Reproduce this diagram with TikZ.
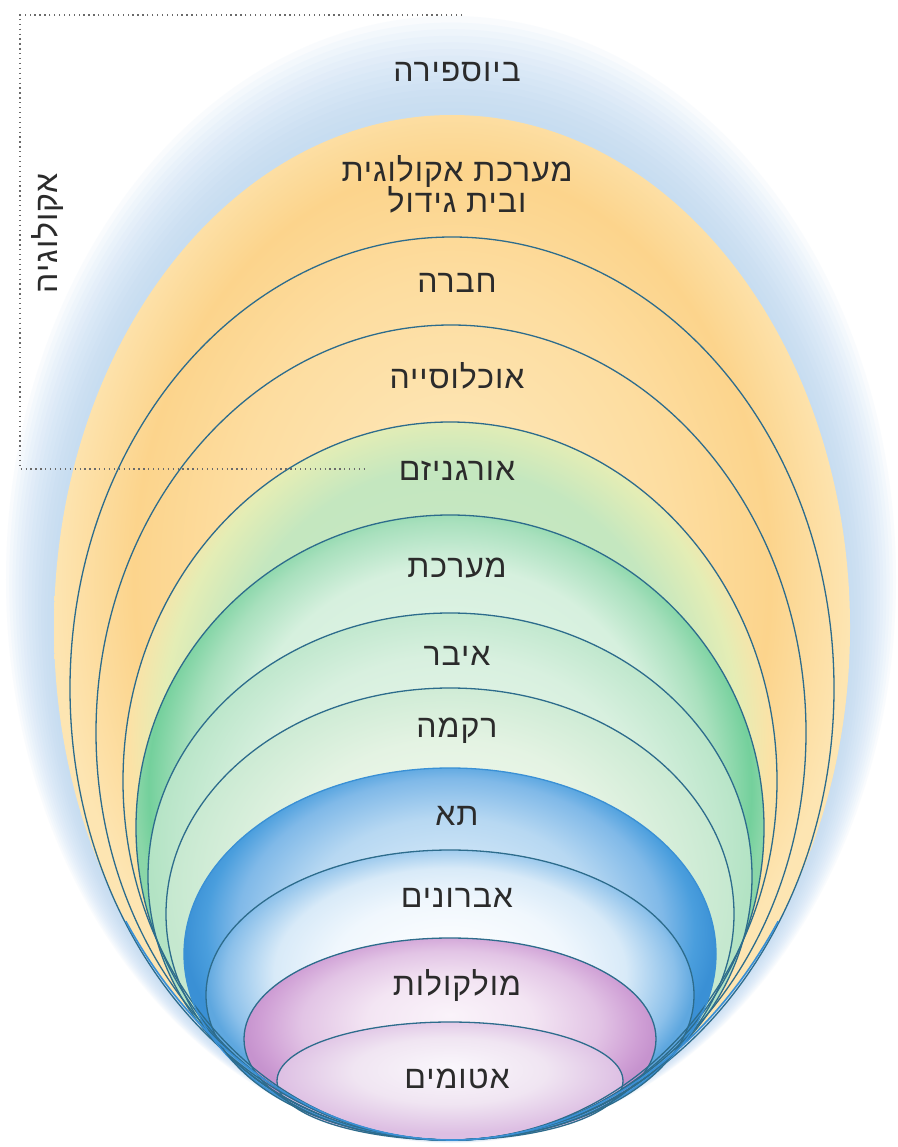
\documentclass[tikz,border=0pt]{standalone}
\usepackage{fontspec}
\newfontfamily\heb[Script=Hebrew,LetterSpace=3]{Liberation Sans}
\TeXXeTstate=1
\definecolor{glowc}{HTML}{B4D3F1}
\definecolor{lnc}{HTML}{2D6C8C}
\definecolor{txt}{HTML}{2B2B2B}
\definecolor{brkc}{HTML}{6A6A6A}
\definecolor{ylA}{HTML}{FEEAC0}
\definecolor{ylB}{HTML}{FDDDA0}
\definecolor{ylC}{HTML}{FCD48C}
\definecolor{ylD}{HTML}{FDE5B2}
\definecolor{orA}{HTML}{C9E9C8}
\definecolor{orB}{HTML}{C4E7BF}
\definecolor{orC}{HTML}{E4EDB5}
\definecolor{orD}{HTML}{FBE2A6}
\definecolor{syA}{HTML}{EAF7EE}
\definecolor{syB}{HTML}{D6F0DE}
\definecolor{syC}{HTML}{A8E0BD}
\definecolor{syD}{HTML}{74D09C}
\definecolor{syE}{HTML}{8AD6A8}
\definecolor{ogA}{HTML}{EEF8F0}
\definecolor{ogB}{HTML}{D8F0DF}
\definecolor{ogC}{HTML}{B3E3C4}
\definecolor{tiA}{HTML}{F4FAF0}
\definecolor{tiB}{HTML}{E4F3E3}
\definecolor{tiC}{HTML}{C5E8CF}
\definecolor{ceA}{HTML}{E6F2FB}
\definecolor{ceB}{HTML}{B7D8F2}
\definecolor{ceC}{HTML}{80B9E8}
\definecolor{ceD}{HTML}{4A9EDD}
\definecolor{ceE}{HTML}{3A90D5}
\definecolor{onA}{HTML}{FFFFFF}
\definecolor{onB}{HTML}{F0F7FD}
\definecolor{onC}{HTML}{D8EAF8}
\definecolor{onD}{HTML}{8BC0EA}
\definecolor{onE}{HTML}{5EA7DF}
\definecolor{moA}{HTML}{FAF3FA}
\definecolor{moB}{HTML}{F3E5F3}
\definecolor{moC}{HTML}{E2C4E5}
\definecolor{moD}{HTML}{CF9FD5}
\definecolor{moE}{HTML}{C693CE}
\definecolor{atA}{HTML}{FAF7FC}
\definecolor{atB}{HTML}{F0E5F2}
\definecolor{atC}{HTML}{DDBFE3}
% the edge of each shaded ellipse sits at about 25bp of the shading;
% the inner centre is raised so that the sides take the stronger colours
\pgfdeclareradialshading{yellowsh}{\pgfpoint{0bp}{4bp}}{color(0bp)=(ylA); color(14bp)=(ylB); color(20bp)=(ylC); color(25bp)=(ylD); color(50bp)=(ylD)}
\pgfdeclareradialshading{orgsh}{\pgfpoint{0bp}{6bp}}{color(0bp)=(orA); color(18bp)=(orB); color(22bp)=(orC); color(24.5bp)=(orD); color(50bp)=(orD)}
\pgfdeclareradialshading{syssh}{\pgfpoint{0bp}{6bp}}{color(0bp)=(syA); color(17bp)=(syB); color(21bp)=(syC); color(24bp)=(syD); color(25bp)=(syE); color(50bp)=(syE)}
\pgfdeclareradialshading{organsh}{\pgfpoint{0bp}{6bp}}{color(0bp)=(ogA); color(17bp)=(ogB); color(25bp)=(ogC); color(50bp)=(ogC)}
\pgfdeclareradialshading{tissh}{\pgfpoint{0bp}{6bp}}{color(0bp)=(tiA); color(15bp)=(tiB); color(25bp)=(tiC); color(50bp)=(tiC)}
\pgfdeclareradialshading{cellsh}{\pgfpoint{0bp}{6bp}}{color(0bp)=(ceA); color(14bp)=(ceB); color(20bp)=(ceC); color(23bp)=(ceD); color(25bp)=(ceE); color(50bp)=(ceE)}
\pgfdeclareradialshading{orgnsh}{\pgfpoint{0bp}{6bp}}{color(0bp)=(onA); color(12bp)=(onB); color(18bp)=(onC); color(23bp)=(onD); color(25bp)=(onE); color(50bp)=(onE)}
\pgfdeclareradialshading{molsh}{\pgfpoint{0bp}{6bp}}{color(0bp)=(moA); color(10bp)=(moB); color(18bp)=(moC); color(23bp)=(moD); color(25bp)=(moE); color(50bp)=(moE)}
\pgfdeclareradialshading{atsh}{\pgfpoint{0bp}{6bp}}{color(0bp)=(atA); color(14bp)=(atB); color(25bp)=(atC); color(50bp)=(atC)}
\tikzset{
  ring/.style={draw=lnc, line width=1.3pt},
  lbl/.style={font=\heb\fontsize{32}{36}\selectfont, text=txt, anchor=base, inner sep=0pt},
  brk/.style={draw=brkc, line width=1.3pt, dash pattern=on 1.3pt off 3.6pt},
}
\begin{document}
\begin{tikzpicture}[x=1pt, y=-1pt]
\useasboundingbox (0,0) rectangle (897,1147);
\fill[white] (0,0) rectangle (897,1147);
% glow
\foreach \d in {4,8,...,60} {
  \fill[glowc, opacity=0.075] (451,{627.5-0.8*\d}) ellipse [x radius={(397+0.8*\d)*1pt}, y radius={(512.5+0.85*\d)*1pt}];
}
% fills
\shade[shading=yellowsh] (452,627.5) ellipse [x radius=398pt, y radius=512.5pt];
\shade[shading=orgsh] (450,781) ellipse [x radius=327pt, y radius=359pt];
\shade[shading=syssh] (450,827.5) ellipse [x radius=314pt, y radius=312.5pt];
\shade[shading=organsh] (450,876.5) ellipse [x radius=302pt, y radius=263.5pt];
\shade[shading=tissh] (450,914) ellipse [x radius=284pt, y radius=226pt];
\shade[shading=cellsh] (450,954) ellipse [x radius=266pt, y radius=186pt];
\shade[shading=orgnsh] (450,995) ellipse [x radius=244pt, y radius=145pt];
\shade[shading=molsh] (450,1039) ellipse [x radius=206pt, y radius=101pt];
\shade[shading=atsh] (450,1081) ellipse [x radius=173pt, y radius=59pt];
% outlines
\draw[ring] (452,688.5) ellipse [x radius=382pt, y radius=451.5pt];
\draw[ring] (451,732.5) ellipse [x radius=355pt, y radius=407.5pt];
\draw[ring] (450,781) ellipse [x radius=327pt, y radius=359pt];
\draw[ring] (450,827.5) ellipse [x radius=314pt, y radius=312.5pt];
\draw[ring] (450,876.5) ellipse [x radius=302pt, y radius=263.5pt];
\draw[ring] (450,914) ellipse [x radius=284pt, y radius=226pt];
\draw[ring, draw=ceE] (450,954) ellipse [x radius=266pt, y radius=186pt];
\draw[ring] (450,995) ellipse [x radius=244pt, y radius=145pt];
\draw[ring] (450,1039) ellipse [x radius=206pt, y radius=101pt];
\draw[ring] (450,1081) ellipse [x radius=173pt, y radius=59pt];
\draw[line width=1.6pt, draw=ceE, line cap=round] (452,627.5) ++(-145:398pt and 512.5pt) arc [start angle=-145, end angle=-35, x radius=398pt, y radius=512.5pt];
% bracket
\coordinate (bTR) at (462,15);
\coordinate (bTL) at (20,15);
\coordinate (bBL) at (20,469);
\coordinate (bBR) at (365,469);
\draw[brk] (bTR) -- (bTL) -- (bBL) -- (bBR);
% labels
\node[lbl] (bio) at (457,82) {\beginR ביוספירה\endR};
\node[lbl] (eco1) at (457,182) {\beginR מערכת אקולוגית\endR};
\node[lbl] (eco2) at (457,213) {\beginR ובית גידול\endR};
\node[lbl] (com) at (457,293) {\beginR חברה\endR};
\node[lbl] (pop) at (457,388) {\beginR אוכלוסייה\endR};
\node[lbl] (orgm) at (457,480) {\beginR אורגניזם\endR};
\node[lbl] (sys) at (457,577) {\beginR מערכת\endR};
\node[lbl] (organ) at (457,665) {\beginR איבר\endR};
\node[lbl] (tis) at (457,737) {\beginR רקמה\endR};
\node[lbl] (cell) at (457,825) {\beginR תא\endR};
\node[lbl] (orgn) at (457,907) {\beginR אברונים\endR};
\node[lbl] (mol) at (457,995) {\beginR מולקולות\endR};
\node[lbl] (atm) at (457,1088) {\beginR אטומים\endR};
\node[font=\heb\fontsize{32}{36}\selectfont, text=txt, inner sep=0pt, rotate=90] (eco) at (47,233) {\beginR אקולוגיה\endR};
\end{tikzpicture}
\end{document}
